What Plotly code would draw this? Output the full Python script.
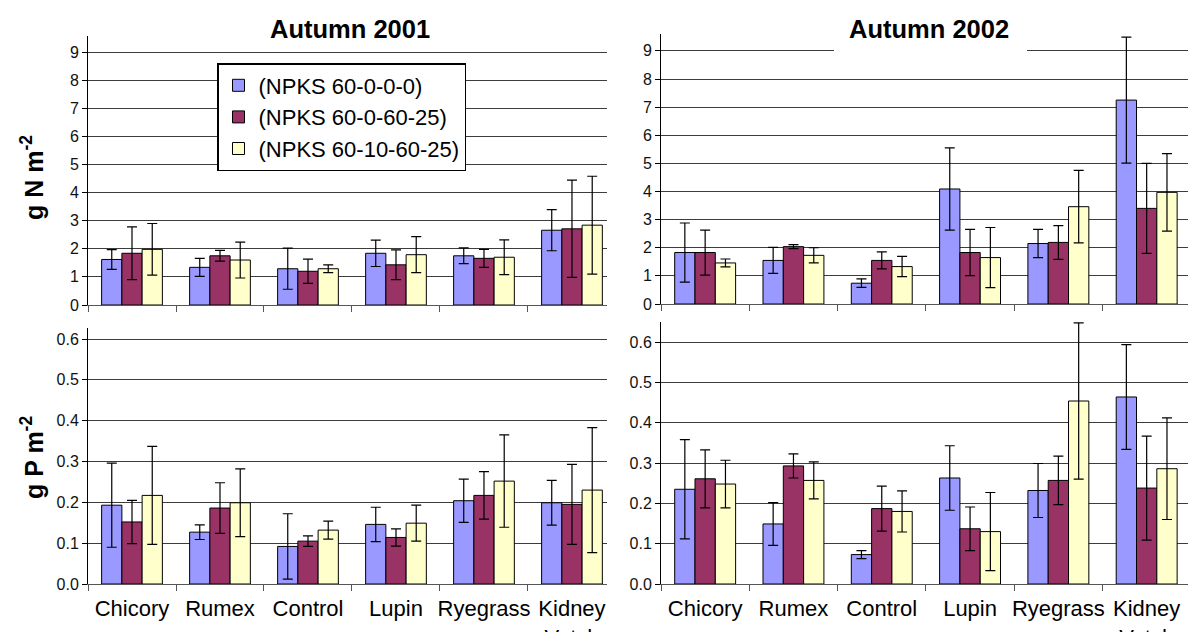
import plotly.graph_objects as go

# Plant species / treatments on the x axis
categories = ["Chicory", "Rumex", "Control", "Lupin", "Ryegrass", "Kidney<br>Vetch"]
series_names = ["(NPKS 60-0-0-0)", "(NPKS 60-0-60-25)", "(NPKS 60-10-60-25)"]
colors = ["#9999FF", "#993366", "#FFFFCC"]

# Nitrogen uptake, g N m-2 (one list per fertiliser series)
n2001 = [[1.62, 1.34, 1.29, 1.84, 1.75, 2.66],
         [1.84, 1.75, 1.20, 1.43, 1.66, 2.71],
         [1.98, 1.60, 1.29, 1.79, 1.70, 2.84]]
n2001_err = [[0.35, 0.32, 0.73, 0.47, 0.28, 0.73],
             [0.94, 0.19, 0.43, 0.53, 0.32, 1.73],
             [0.92, 0.64, 0.14, 0.64, 0.62, 1.74]]
n2002 = [[1.83, 1.55, 0.74, 4.09, 2.15, 7.25],
         [1.83, 2.04, 1.55, 1.83, 2.19, 3.40],
         [1.46, 1.73, 1.33, 1.65, 3.46, 3.97]]
n2002_err = [[1.05, 0.46, 0.15, 1.46, 0.50, 2.24],
             [0.80, 0.07, 0.30, 0.82, 0.60, 1.60],
             [0.14, 0.27, 0.36, 1.07, 1.29, 1.38]]

# Phosphorus uptake, g P m-2
p2001 = [[0.193, 0.127, 0.092, 0.146, 0.204, 0.199],
         [0.152, 0.186, 0.105, 0.114, 0.217, 0.195],
         [0.217, 0.199, 0.132, 0.149, 0.252, 0.230]]
p2001_err = [[0.103, 0.018, 0.080, 0.042, 0.053, 0.055],
             [0.053, 0.062, 0.013, 0.021, 0.058, 0.098],
             [0.120, 0.083, 0.022, 0.044, 0.113, 0.153]]
p2002 = [[0.235, 0.149, 0.073, 0.263, 0.232, 0.464],
         [0.261, 0.293, 0.187, 0.137, 0.257, 0.238],
         [0.248, 0.257, 0.180, 0.130, 0.454, 0.286]]
p2002_err = [[0.123, 0.053, 0.010, 0.080, 0.067, 0.130],
             [0.072, 0.030, 0.056, 0.054, 0.060, 0.129],
             [0.059, 0.046, 0.051, 0.097, 0.194, 0.126]]

W, H = 1188, 632
FONT = "Liberation Sans, Arial, sans-serif"

def px_x(p):
    return p / W

def px_y(p):
    return (H - p) / H

panels = [
    (n2001, n2001_err, "x", "y", True),
    (n2002, n2002_err, "x2", "y2", False),
    (p2001, p2001_err, "x3", "y3", False),
    (p2002, p2002_err, "x4", "y4", False),
]

fig = go.Figure()
for vals, errs, xa, ya, show in panels:
    for i in range(3):
        fig.add_trace(go.Bar(
            x=categories, y=vals[i], name=series_names[i],
            marker=dict(color=colors[i], line=dict(color="black", width=1)),
            error_y=dict(type="data", array=errs[i], color="black",
                         thickness=1.2, width=5),
            xaxis=xa, yaxis=ya, legendgroup=series_names[i], showlegend=show,
        ))

grid = "#3c3c3c"
tickfont = dict(family=FONT, size=16, color="#111")

def xaxis(domain, rng, labels, anchor):
    return dict(domain=domain, range=rng, type="category", anchor=anchor,
                showline=True, linecolor="#555", linewidth=1,
                ticks="outside", ticklen=6, tickcolor="#555",
                tickson="boundaries", showgrid=False, tickangle=0,
                showticklabels=labels, ticklabelstandoff=5,
                tickfont=dict(family=FONT, size=22, color="black"))

def yaxis(domain, rng, dtick, fmt, anchor):
    return dict(domain=domain, range=rng, dtick=dtick, tickformat=fmt,
                anchor=anchor, showline=True, linecolor="black", linewidth=1,
                ticks="outside", ticklen=5, tickcolor="black", showgrid=True,
                gridcolor=grid, gridwidth=1, zeroline=False, tickfont=tickfont)

left_dom = [px_x(88), px_x(607)]
right_dom = [px_x(661), 1.0]

def label(text, x, y, size, angle=0):
    return dict(text=text, x=px_x(x), y=px_y(y), xref="paper", yref="paper",
                xanchor="center", yanchor="middle", showarrow=False,
                textangle=angle, font=dict(family=FONT, size=size))

fig.update_layout(
    width=W, height=H,
    margin=dict(l=0, r=0, t=0, b=0, autoexpand=False),
    paper_bgcolor="white", plot_bgcolor="white",
    barmode="group", bargap=0.31, bargroupgap=0,
    font=dict(family=FONT, color="black"),
    xaxis=xaxis(left_dom, [-0.5, 5.398], False, "y"),
    xaxis2=xaxis(right_dom, [-0.5, 5.468], False, "y2"),
    xaxis3=xaxis(left_dom, [-0.5, 5.398], True, "y3"),
    xaxis4=xaxis(right_dom, [-0.5, 5.468], True, "y4"),
    yaxis=yaxis([px_y(305), px_y(36)], [0, 9.57], 1, "d", "x"),
    yaxis2=yaxis([px_y(304), px_y(34)], [0, 9.6], 1, "d", "x2"),
    yaxis3=yaxis([px_y(584), px_y(328)], [0, 0.627], 0.1, ".1f", "x3"),
    yaxis4=yaxis([px_y(584), px_y(322)], [0, 0.65], 0.1, ".1f", "x4"),
    legend=dict(x=px_x(217), y=px_y(63), xanchor="left", yanchor="top",
                bgcolor="white", bordercolor="black", borderwidth=1.5,
                font=dict(family=FONT, size=22, color="black"),
                tracegroupgap=0, itemwidth=30),
    shapes=[dict(type="rect", xref="paper", yref="paper",
                 x0=px_x(834), x1=px_x(1027), y0=px_y(56), y1=px_y(46),
                 fillcolor="white", line=dict(width=0), layer="above")],
    annotations=[
        label("<b>Autumn 2001</b>", 350, 29, 25.5),
        label("<b>Autumn 2002</b>", 929, 29, 25.5),
        label("<b>g N m<sup>-2</sup></b>", 32, 178, 25, -90),
        label("<b>g P m<sup>-2</sup></b>", 32, 458, 25, -90),
    ],
)

fig.write_html("out.html")
